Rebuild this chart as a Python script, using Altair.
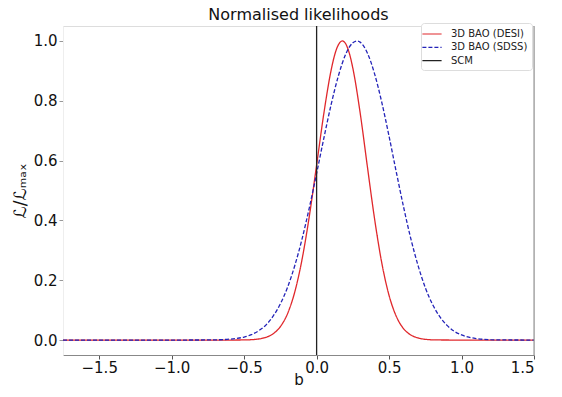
import altair as alt
import pandas as pd

# ---- data ----
SERIES = ["3D BAO (DESI)", "3D BAO (SDSS)", "SCM"]

DESI_B = [-1.75, -1.0, -0.6, -0.5, -0.45, -0.4, -0.35, -0.3, -0.25, -0.2, -0.15, -0.1,
          -0.05, 0.0, 0.05, 0.1, 0.125, 0.15, 0.178, 0.2, 0.225, 0.25, 0.3, 0.35, 0.4,
          0.45, 0.5, 0.55, 0.6, 0.65, 0.7, 0.75, 0.8, 0.9, 1.0, 1.5]
DESI_L = [0.0, 0.0, 0.0, 0.0004, 0.0013, 0.0035, 0.009, 0.021, 0.045, 0.089, 0.162, 0.271,
          0.415, 0.585, 0.758, 0.902, 0.954, 0.987, 1.0, 0.991, 0.960, 0.909, 0.761, 0.581, 0.405,
          0.257, 0.149, 0.079, 0.038, 0.017, 0.007, 0.0024, 0.0008, 0.0001, 0.0, 0.0]

SDSS_B = [-1.75, -1.0, -0.8, -0.7, -0.6, -0.55, -0.5, -0.45, -0.4, -0.35, -0.3, -0.25,
          -0.2, -0.15, -0.1, -0.05, 0.0, 0.05, 0.1, 0.15, 0.2, 0.25, 0.278, 0.3, 0.35,
          0.4, 0.45, 0.5, 0.55, 0.6, 0.65, 0.7, 0.75, 0.8, 0.85, 0.9, 0.95, 1.0, 1.05,
          1.1, 1.2, 1.3, 1.5]
SDSS_L = [0.0, 0.0, 0.0002, 0.0007, 0.003, 0.0056, 0.010, 0.018, 0.031, 0.050, 0.080, 0.121,
          0.177, 0.250, 0.339, 0.443, 0.557, 0.675, 0.787, 0.883, 0.955, 0.994, 1.0, 0.996, 0.960,
          0.890, 0.794, 0.681, 0.561, 0.445, 0.339, 0.249, 0.175, 0.119, 0.078, 0.049, 0.029, 0.017, 0.0095,
          0.005, 0.0013, 0.0003, 0.0]

SCM_B = [0.0]

X_DOMAIN = [-1.75, 1.5]
Y_DOMAIN = [-0.05, 1.05]
X_TICKS = [-1.5, -1.0, -0.5, 0.0, 0.5, 1.0, 1.5]
Y_TICKS = [0.0, 0.2, 0.4, 0.6, 0.8, 1.0]

lines_df = pd.concat([
    pd.DataFrame({"b": DESI_B, "L": DESI_L, "series": SERIES[0]}),
    pd.DataFrame({"b": SDSS_B, "L": SDSS_L, "series": SERIES[1]}),
])
scm_df = pd.DataFrame({"b": SCM_B, "series": SERIES[2]})

FONT = "DejaVu Sans"

color_scale = alt.Scale(domain=SERIES, range=["#e0282c", "#2323b8", "#222222"])
dash_scale = alt.Scale(domain=SERIES, range=[[1, 0], [4, 2], [1, 0]])

x_enc = alt.X("b:Q", scale=alt.Scale(domain=X_DOMAIN, nice=False, zero=False),
              axis=alt.Axis(values=X_TICKS, format=".1f", title="b", grid=False,
                            domainColor="#888888", tickColor="#555555", tickSize=4,
                            labelFontSize=15, titleFontSize=15, titleFontWeight="normal",
                            labelPadding=1, titleY=29, titleBaseline="alphabetic",
                            labelColor="#111111",
                            titleColor="#111111", labelFont=FONT, titleFont=FONT))
y_enc = alt.Y("L:Q", scale=alt.Scale(domain=Y_DOMAIN, nice=False, zero=False),
              axis=alt.Axis(values=Y_TICKS, format=".1f", title="ℒ/ℒₘₐₓ", grid=False,
                            domainColor="#eeeeee", tickColor="#999999", tickSize=4,
                            labelFontSize=15, titleFontSize=17, titleFontWeight="normal",
                            labelPadding=2, titlePadding=4, labelColor="#111111",
                            titleColor="#111111", labelFont=FONT, titleFont=FONT))

legend = alt.Legend(title=None, orient="none", legendX=358, legendY=-3,
                    fillColor="white", strokeColor="#dddddd", cornerRadius=3, padding=4,
                    labelFontSize=10, labelFont=FONT, labelColor="#222222",
                    symbolType="M-1.6,0H1.6", symbolSize=144, symbolStrokeWidth=1.2,
                    rowPadding=1.3, labelOffset=12, offset=0)

lines = alt.Chart(lines_df).mark_line(strokeWidth=1.3, interpolate="monotone", clip=True).encode(
    x=x_enc, y=y_enc,
    color=alt.Color("series:N", scale=color_scale, legend=legend, sort=SERIES),
    strokeDash=alt.StrokeDash("series:N", scale=dash_scale, legend=legend, sort=SERIES),
)

scm = alt.Chart(scm_df).mark_rule(strokeWidth=1.3).encode(
    x="b:Q",
    color=alt.Color("series:N", scale=color_scale, legend=legend, sort=SERIES),
    strokeDash=alt.StrokeDash("series:N", scale=dash_scale, legend=legend, sort=SERIES),
)

right_spine = alt.Chart(scm_df).mark_rule(strokeWidth=1, color="#888888").encode(
    x=alt.datum(X_DOMAIN[1]),
)

chart = alt.layer(lines, scm, right_spine).properties(
    width=471, height=329,
    title=alt.TitleParams("Normalised likelihoods", fontSize=16, fontWeight="normal",
                          font=FONT, color="#111111", anchor="middle", offset=0),
    autosize=alt.AutoSizeParams(type="none"),
    padding={"left": 55, "top": 18, "right": 20, "bottom": 34},
).configure_view(stroke="#eeeeee", strokeWidth=1).configure(background="white")

chart.save("out.html", embed_options={"renderer": "svg", "actions": False})
